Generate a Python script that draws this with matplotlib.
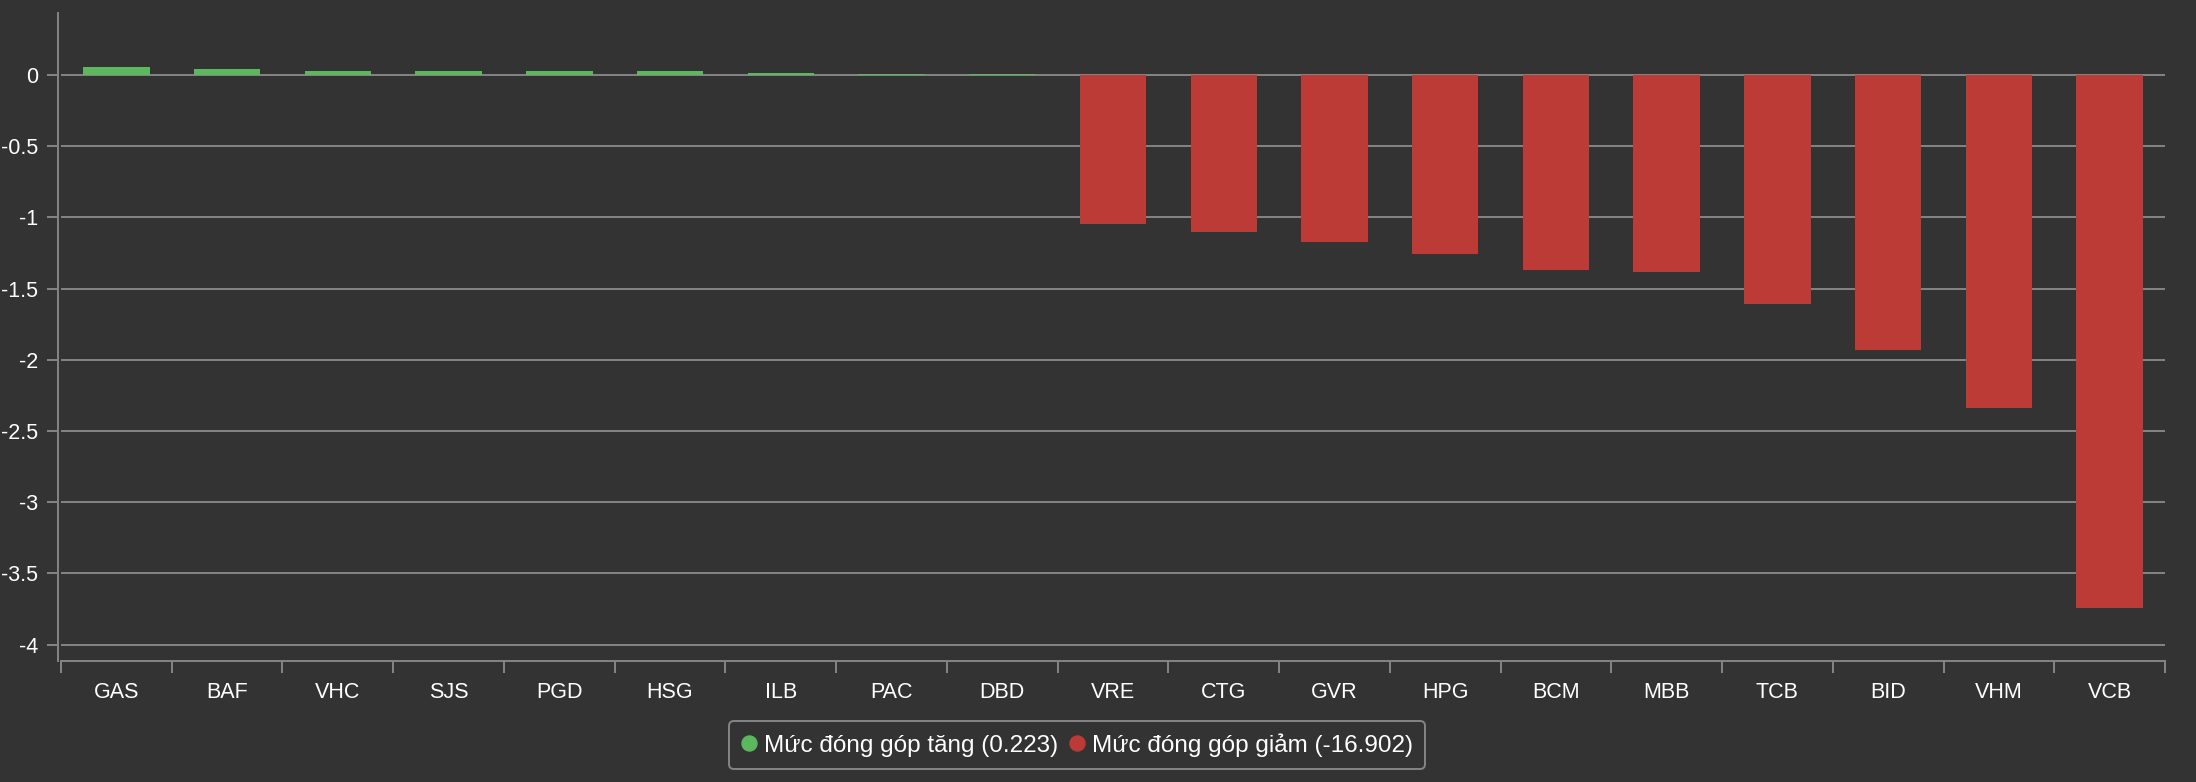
import matplotlib
matplotlib.use("Agg")
import matplotlib.pyplot as plt
from matplotlib.lines import Line2D
import numpy as np

# du lieu doc tu hinh
tickers = ["GAS", "BAF", "VHC", "SJS", "PGD", "HSG", "ILB", "PAC", "DBD",
           "VRE", "CTG", "GVR", "HPG", "BCM", "MBB", "TCB", "BID", "VHM", "VCB"]
values = [0.053, 0.039, 0.025, 0.025, 0.025, 0.025, 0.011, 0.010, 0.010,
          -1.046, -1.103, -1.173, -1.257, -1.369, -1.383, -1.606, -1.931, -2.338, -3.743]
yticks = [0, -0.5, -1, -1.5, -2, -2.5, -3, -3.5, -4]
ytick_labels = ["0", "-0.5", "-1", "-1.5", "-2", "-2.5", "-3", "-3.5", "-4"]
legend_labels = ["Mức đóng góp tăng (0.223)", "Mức đóng góp giảm (-16.902)"]

BG = "#333333"
GREEN = "#5cb85c"
RED = "#bd3b37"
GRID = "#858585"

plt.rcParams['font.family'] = ['Liberation Sans', 'DejaVu Sans']

W, H = 2196, 782
fig = plt.figure(figsize=(W / 100, H / 100), dpi=100)
fig.patch.set_facecolor(BG)

# vi tri truc theo pixel
left, right, top, bottom = 61, 2165, 13, 661
ax = fig.add_axes([left / W, 1 - bottom / H, (right - left) / W, (bottom - top) / H])
ax.set_facecolor(BG)

x = np.arange(len(tickers))
colors = [GREEN if v >= 0 else RED for v in values]
ax.bar(x, values, width=0.6, color=colors, zorder=3)

ax.set_xlim(-0.5, len(tickers) - 0.5)
ax.set_ylim(-4.115, 0.435)

# luoi ngang
ax.set_yticks(yticks)
ax.set_yticklabels(ytick_labels)
ax.yaxis.grid(True, color=GRID, linewidth=1.4, zorder=0)
ax.xaxis.grid(False)

# truc x: vach o ranh gioi, nhan o giua
ax.set_xticks(np.arange(-0.5, len(tickers), 1.0))
ax.set_xticklabels([])
ax.set_xticks(x, minor=True)
ax.set_xticklabels(tickers, minor=True)
ax.tick_params(axis='x', which='major', length=8.6, width=1.4, color=GRID, direction='out')
ax.tick_params(axis='x', which='minor', length=0, pad=15, labelsize=15.5, labelcolor='white')
ax.tick_params(axis='y', length=8, width=1.4, color=GRID, pad=6.5, labelsize=15.5, labelcolor='white')

for s in ['top', 'right']:
    ax.spines[s].set_visible(False)
ax.spines['left'].set_position(('outward', 2))
ax.spines['left'].set_color(GRID)
ax.spines['left'].set_linewidth(1.4)
ax.spines['bottom'].set_color(GRID)
ax.spines['bottom'].set_linewidth(1.4)

handles = [Line2D([], [], marker='o', linestyle='none', markersize=10.8,
                  markerfacecolor=c, markeredgecolor=c) for c in (GREEN, RED)]
leg = fig.legend(handles, legend_labels, ncol=2, loc='center',
                 bbox_to_anchor=(1077 / W, 1 - 745 / H), fontsize=17.5,
                 handlelength=0.65, handletextpad=0.3, columnspacing=0.45,
                 borderpad=0.5, frameon=True, fancybox=True, labelcolor='white')
frame = leg.get_frame()
frame.set_facecolor(BG)
frame.set_edgecolor(GRID)
frame.set_linewidth(1.4)
frame.set_alpha(1)

fig.savefig("out.png", dpi=100, facecolor=BG)
